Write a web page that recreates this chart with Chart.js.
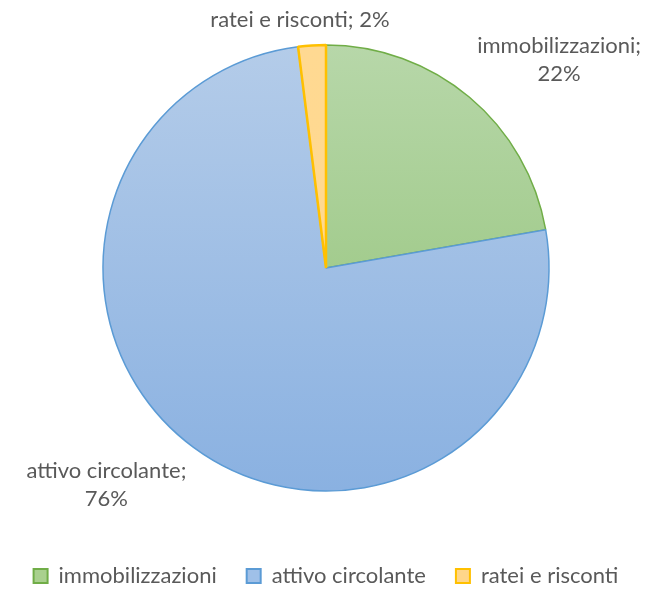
<!DOCTYPE html>
<html>
<head>
<meta charset="utf-8">
<script src="https://cdn.jsdelivr.net/npm/chart.js@4.4.1/dist/chart.umd.min.js"></script>
<style>
  html, body { margin: 0; padding: 0; background: #ffffff; }
  #wrap { width: 658px; height: 597px; }
</style>
</head>
<body>
<div id="wrap"><canvas id="pie"></canvas></div>
<script>
// values (percent of total)
const categories = ['immobilizzazioni', 'attivo circolante', 'ratei e risconti'];
const values = [22.25, 75.75, 2.0];
const fillTop = ['#b7d7a9', '#b4cce9', '#ffd992'];
const fillBottom = ['#8fc173', '#8ab1e1', '#ffd88c'];
const flatFill = ['#a9d08e', '#9fc0e8', '#ffd68a'];
const borders = ['#70ad47', '#5b9bd5', '#ffc000'];

const textColor = '#595959';
const fontFamily = 'Lato, "Open Sans", sans-serif';

function sliceFill(ctx) {
    const i = ctx.dataIndex;
    const area = ctx.chart.chartArea;
    if (!area) return flatFill[i];
    const cy = (area.top + area.bottom) / 2;
    const g = ctx.chart.ctx.createLinearGradient(0, cy - 223, 0, cy + 223);
    g.addColorStop(0, fillTop[i]);
    g.addColorStop(1, fillBottom[i]);
    return g;
}

// outside labels "category; pct%", wrapped like the original
const outsideLabels = {
    id: 'outsideLabels',
    afterDatasetsDraw(chart) {
        const ctx = chart.ctx;
        const meta = chart.getDatasetMeta(0);
        const total = values.reduce((a, b) => a + b, 0);
        ctx.save();
        ctx.font = '22px ' + fontFamily;
        ctx.fillStyle = textColor;
        ctx.textAlign = 'center';
        ctx.textBaseline = 'middle';
        meta.data.forEach((arc, i) => {
            const p = arc.getProps(['x', 'y', 'startAngle', 'endAngle', 'outerRadius'], true);
            const mid = (p.startAngle + p.endAngle) / 2;
            const dx = Math.cos(mid), dy = Math.sin(mid);
            const ax = p.x + (p.outerRadius + 12) * dx;
            const ay = p.y + (p.outerRadius + 12) * dy;
            const pct = Math.round(values[i] / total * 100) + '%';
            const full = categories[i] + '; ' + pct;
            let lines = [full];
            if (ctx.measureText(full).width > 190) lines = [categories[i] + ';', pct];
            const w = Math.max(...lines.map(l => ctx.measureText(l).width));
            const lh = 28;
            const h = lines.length * lh;
            const clamp = v => Math.max(-1, Math.min(1, v));
            const cx = ax + clamp(dx * 2) * w / 2;
            const cy = ay + clamp(dy * 2) * h / 2;
            lines.forEach((l, k) => {
                ctx.fillText(l, cx, cy - h / 2 + lh / 2 + k * lh);
            });
        });
        ctx.restore();
    }
};

new Chart(document.getElementById('pie'), {
    type: 'pie',
    data: {
        labels: categories,
        datasets: [{
            data: values,
            backgroundColor: sliceFill,
            borderColor: borders,
            borderWidth: [1.5, 1.5, 2.5],
            radius: 223
        }]
    },
    options: {
        responsive: true,
        maintainAspectRatio: false,
        animation: false,
        layout: { padding: { top: 1, bottom: 0, left: 0, right: 6 } },
        plugins: {
            tooltip: { enabled: false },
            legend: {
                position: 'bottom',
                labels: {
                    color: textColor,
                    font: { family: fontFamily, size: 22 },
                    boxWidth: 14,
                    boxHeight: 14,
                    padding: 30,
                    generateLabels: (chart) => categories.map((c, i) => ({
                        text: c,
                        fillStyle: flatFill[i],
                        strokeStyle: borders[i],
                        lineWidth: 2,
                        fontColor: textColor,
                        index: i,
                        hidden: false
                    }))
                }
            }
        }
    },
    plugins: [outsideLabels]
});
</script>
</body>
</html>
